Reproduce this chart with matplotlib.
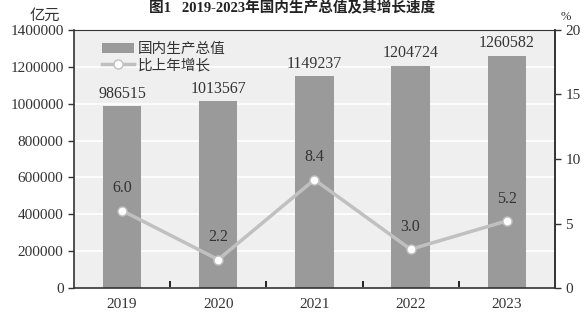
import numpy as np
import matplotlib
matplotlib.use("Agg")
import matplotlib.pyplot as plt
from matplotlib.lines import Line2D
from matplotlib.patches import Patch

plt.rcParams['font.family'] = ['Liberation Serif', 'Noto Sans CJK SC']

years = ['2019', '2020', '2021', '2022', '2023']
gdp = [986515, 1013567, 1149237, 1204724, 1260582]
growth = [6.0, 2.2, 8.4, 3.0, 5.2]
gdp_ticks = [0, 200000, 400000, 600000, 800000, 1000000, 1200000, 1400000]
pct_ticks = [0, 5, 10, 15, 20]

fig = plt.figure(figsize=(5.85, 3.18), dpi=100)
ax = fig.add_axes([0.1265, 0.0943, 0.822, 0.8114])
ax.set_facecolor('#efefef')

x = np.arange(len(years))
ax.bar(x, gdp, width=0.4, color='#9a9a9a', zorder=2)
ax.set_xlim(-0.5, 4.5)
ax.set_ylim(0, 1400000)
ax.set_yticks(gdp_ticks)
ax.set_yticklabels([str(t) for t in gdp_ticks])
ax.yaxis.grid(True, color='white', linewidth=1.2, zorder=0)
ax.set_axisbelow(True)
ax.set_xticks(x)
ax.set_xticklabels(years)
ax.tick_params(axis='x', length=0, labelsize=11, colors='#333333', pad=7)
ax.set_xticks(x[:-1] + 0.5, minor=True)
ax.tick_params(axis='x', which='minor', direction='in', length=5, width=1.2)
ax.tick_params(axis='y', labelsize=11, colors='#333333', length=4, width=1)
for s in ax.spines.values():
    s.set_color('#333333')
    s.set_linewidth(1.2)
ax.spines['top'].set_linewidth(0.8)

for xi, v in zip(x, gdp):
    ax.text(xi, v + 25000, str(v), ha='center', va='bottom', fontsize=11.5, color='#333333')

ax2 = ax.twinx()
ax2.set_ylim(0, 20)
ax2.set_yticks(pct_ticks)
ax2.tick_params(axis='y', labelsize=11, colors='#333333', length=4, width=1)
ax2.plot(x, growth, color='#c0c0c0', linewidth=2.5, marker='o', markersize=6.5,
         markerfacecolor='white', markeredgecolor='#c0c0c0', zorder=3)
for s in ax2.spines.values():
    s.set_visible(False)
ax2.spines['right'].set_visible(True)
ax2.spines['right'].set_color('#333333')
ax2.spines['right'].set_linewidth(1.2)

for xi, v in zip(x, growth):
    ax2.text(xi, v + 1.1, '%.1f' % v, ha='center', va='bottom', fontsize=11.5, color='#333333')

handles = [Patch(facecolor='#9a9a9a', edgecolor='none'),
           Line2D([], [], color='#c0c0c0', linewidth=2.5, marker='o', markersize=6.5,
                  markerfacecolor='white', markeredgecolor='#c0c0c0')]
ax.legend(handles, ['国内生产总值', '比上年增长'], loc='upper left', frameon=False,
          fontsize=10.5, bbox_to_anchor=(0.03, 1.0), handlelength=2.2,
          labelspacing=0.15, handletextpad=0.3, labelcolor='#333333')

fig.text(0.077, 0.95, '亿元', ha='center', va='center', fontsize=11, color='#333333')
fig.text(0.967, 0.945, '%', ha='center', va='center', fontsize=9, color='#333333')
fig.text(0.5, 0.998, '图1   2019-2023年国内生产总值及其增长速度', ha='center', va='top',
         fontsize=10.5, fontweight='bold', color='#222222')

fig.savefig('out.png', dpi=100)
